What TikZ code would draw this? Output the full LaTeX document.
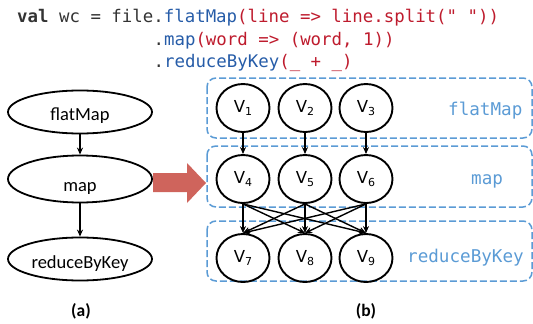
\documentclass[tikz,border=0pt]{standalone}
\usepackage{fontspec}
\setmainfont{Carlito}
\newfontfamily\codefont[Ligatures=TeXOff]{DejaVu Sans Mono}
\newfontfamily\vfont{DejaVu Sans}
\usetikzlibrary{shapes.geometric,arrows.meta}
\definecolor{codegray}{RGB}{51,51,51}
\definecolor{codeblue}{RGB}{38,92,168}
\definecolor{codered}{RGB}{190,27,45}
\definecolor{stageblue}{RGB}{91,155,213}
\definecolor{bigred}{RGB}{207,100,92}
\newcommand{\vsub}[1]{V\raisebox{-3.5pt}{\fontsize{11}{12}\selectfont #1}}
\begin{document}
\begin{tikzpicture}[x=1pt,y=-1pt,
  opnode/.style={draw, ellipse, line width=1.8pt, minimum width=144pt, minimum height=43pt, inner sep=0pt, text depth=0pt, font=\fontsize{18.5}{20}\selectfont},
  vnode/.style={draw, ellipse, line width=1.9pt, minimum width=53pt, minimum height=48pt, inner sep=0pt, font=\vfont\fontsize{16.5}{18}\selectfont},
  flow/.style={-{Stealth[length=7pt,width=6pt]}, line width=1.4pt},
  stagebox/.style={draw=stageblue, dash pattern=on 7pt off 3pt, line width=1.5pt, rounded corners=9pt},
  stagelabel/.style={anchor=base west, inner sep=0pt, text=stageblue, font=\codefont\fontsize{17.6}{20}\selectfont},
  codeline/.style={anchor=base west, inner sep=0pt, font=\codefont\fontsize{17.4}{20}\selectfont},
  caption/.style={font=\bfseries\fontsize{17.5}{19}\selectfont}
]
\useasboundingbox (0,0) rectangle (533,324);

% code
\node[codeline] (c1) at (17,23) {\textcolor{codegray}{\textbf{val} wc = file.}\textcolor{codeblue}{flatMap}\textcolor{codered}{(line => line.split(" "))}};
\node[codeline] (c2) at (153.4,45) {\textcolor{codegray}{.}\textcolor{codeblue}{map}\textcolor{codered}{(word => (word, 1))}};
\node[codeline] (c3) at (153.4,67) {\textcolor{codegray}{.}\textcolor{codeblue}{reduceByKey}\textcolor{codered}{(\_ + \_)}};

% (a)
\node[opnode, text height=16pt] (fm) at (80,112) {flatMap};
\node[opnode, minimum height=47pt, text height=25pt] (mp) at (80,179) {map};
\node[opnode, text height=18pt] (rk) at (80,259) {reduceByKey};
\draw[flow] (fm) -- (mp);
\draw[flow] (mp) -- (rk);
\node[caption] (ca) at (81,311) {(a)};

% big arrow
\fill[bigred] (153,173) -- (187,173) -- (187,163) -- (206,183) -- (187,203) -- (187,192) -- (153,192) -- cycle;

% (b) stage boxes
\draw[stagebox] (207,78) rectangle (532,138);
\draw[stagebox] (207,146) rectangle (532,207);
\draw[stagebox] (207,221) rectangle (532,281);
\node[stagelabel] (l1) at (448,115.5) {flatMap};
\node[stagelabel] (l2) at (471,184.5) {map};
\node[stagelabel] (l3) at (407,262) {reduceByKey};

\node[vnode] (v1) at (243,108) {\vsub{1}};
\node[vnode] (v2) at (305,108) {\vsub{2}};
\node[vnode] (v3) at (366,108) {\vsub{3}};
\node[vnode] (v4) at (243,179) {\vsub{4}};
\node[vnode] (v5) at (305,179) {\vsub{5}};
\node[vnode] (v6) at (366,179) {\vsub{6}};
\node[vnode] (v7) at (243,258) {\vsub{7}};
\node[vnode] (v8) at (305,258) {\vsub{8}};
\node[vnode] (v9) at (366,258) {\vsub{9}};

\draw[flow] (v1.south) -- (v4.north);
\draw[flow] (v2.south) -- (v5.north);
\draw[flow] (v3.south) -- (v6.north);
\foreach \s in {v4,v5,v6}{
  \foreach \t in {v7,v8,v9}{
    \draw[flow] (\s.south) -- (\t.north);
  }
}
\node[caption] (cb) at (366,311) {(b)};
\end{tikzpicture}
\end{document}
